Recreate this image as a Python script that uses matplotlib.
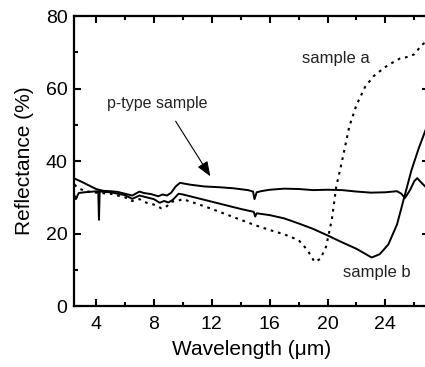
import matplotlib.pyplot as plt
from matplotlib.ticker import MultipleLocator

plt.rcParams['font.family'] = ['Liberation Sans', 'DejaVu Sans']

# p-type sample (solid)
x_p = [2.5, 3.0, 3.5, 4.0, 4.5, 5.0, 5.5, 6.0, 6.5, 7.0, 7.3, 7.8, 8.3, 8.6, 8.9,
       9.2, 9.5, 9.8, 10.5, 11.5, 12.5, 13.5, 14.5, 14.85, 14.95, 15.1, 15.4,
       16.0, 17.0, 18.0, 19.0, 20.0, 21.0, 22.0, 23.0, 24.0, 24.8, 25.1, 25.35,
       25.7, 26.0, 26.2, 26.5, 27.0]
y_p = [35.2, 34.3, 33.3, 32.3, 31.8, 31.7, 31.5, 31.0, 30.5, 31.6, 31.2, 30.9, 30.3,
       30.8, 30.5, 31.3, 33.0, 34.0, 33.5, 33.0, 32.8, 32.5, 32.0, 31.6, 29.5,
       31.4, 31.7, 32.1, 32.4, 32.3, 32.0, 32.1, 32.0, 31.6, 31.3, 31.4, 31.7,
       31.0, 29.8, 32.0, 34.5, 35.3, 34.0, 32.0]

# sample b (solid)
x_b = [2.5, 2.6, 2.8, 3.2, 3.8, 4.15, 4.2, 4.25, 4.5, 5.0, 5.5, 6.0, 6.5, 7.0, 7.5,
       8.0, 8.4, 8.7, 9.0, 9.3, 9.7, 10.0, 11.0, 12.0, 13.0, 14.0, 14.9, 15.0,
       15.1, 16.0, 17.0, 18.0, 19.0, 20.0, 21.0, 22.0, 23.05, 23.6, 24.2, 24.8,
       25.3, 25.8, 26.3, 27.0]
y_b = [30.5, 29.5, 31.2, 31.4, 31.6, 31.7, 23.8, 31.7, 31.5, 31.4, 31.0, 30.6, 29.6,
       30.5, 30.0, 29.5, 28.5, 29.0, 28.6, 29.3, 31.0, 30.8, 29.8, 28.8, 27.8,
       26.8, 26.0, 24.7, 25.6, 25.1, 24.2, 22.8, 21.3, 19.5, 17.6, 15.8, 13.4,
       14.3, 17.0, 22.5, 30.0, 37.5, 43.5, 51.0]

# sample a (dotted)
x_a = [2.5, 2.8, 3.2, 3.6, 4.0, 5.0, 6.0, 6.5, 7.0, 7.5, 8.0, 8.5, 8.8, 9.2, 9.6,
       10.0, 11.0, 12.0, 13.0, 14.0, 15.0, 16.0, 17.0, 18.0, 18.6, 19.1, 19.5,
       19.9, 20.3, 20.6, 21.0, 21.5, 22.0, 22.6, 23.2, 24.0, 24.5, 25.0, 25.6,
       26.0, 26.5, 27.0]
y_a = [33.5, 32.5, 31.8, 31.5, 31.3, 31.0, 30.0, 29.0, 29.5, 28.5, 28.0, 27.0, 27.2,
       28.8, 29.0, 29.5, 28.2, 26.8, 25.3, 23.8, 22.3, 21.0, 19.8, 18.2, 15.5,
       12.2, 13.0, 16.4, 24.0, 32.9, 40.0, 49.5, 55.5, 60.5, 63.5, 66.0, 67.2,
       68.3, 68.8, 69.5, 72.0, 73.5]

fig = plt.figure(figsize=(4.25, 3.67), dpi=100)
ax = fig.add_axes([0.175, 0.166, 0.834, 0.790])

ax.plot(x_p, y_p, color='black', lw=1.4)
ax.plot(x_b, y_b, color='black', lw=1.4)
ax.plot(x_a, y_a, color='black', lw=1.5, linestyle=(0, (1.3, 2.3)))

ax.set_xlim(2.5, 27)
ax.set_ylim(0, 80)
ax.xaxis.set_major_locator(MultipleLocator(4))
ax.xaxis.set_minor_locator(MultipleLocator(2))
ax.yaxis.set_major_locator(MultipleLocator(20))
ax.yaxis.set_minor_locator(MultipleLocator(10))
ax.tick_params(which='both', direction='in', top=True, right=True, width=1.5,
               labelsize=14, pad=5)
ax.tick_params(axis='x', which='both', pad=7)
ax.tick_params(which='major', length=5)
ax.tick_params(which='minor', length=3)
for s in ax.spines.values():
    s.set_linewidth(1.6)

ax.set_xlabel('Wavelength (μm)', fontsize=15, labelpad=5)
ax.set_ylabel('Reflectance (%)', fontsize=15, labelpad=8)

ax.text(8.2, 56, 'p-type sample', fontsize=11.5, ha='center', va='center', color='#222222')
ax.text(20.6, 68.4, 'sample a', fontsize=12, ha='center', va='center', color='#222222')
ax.text(23.4, 9.4, 'sample b', fontsize=12, ha='center', va='center', color='#222222')
ax.annotate('', xy=(11.9, 35.8), xytext=(9.5, 51),
            arrowprops=dict(arrowstyle='-|>,head_length=0.9,head_width=0.35',
                            color='black', lw=0.8, shrinkA=0, shrinkB=0))

plt.savefig('out.png', dpi=100)
